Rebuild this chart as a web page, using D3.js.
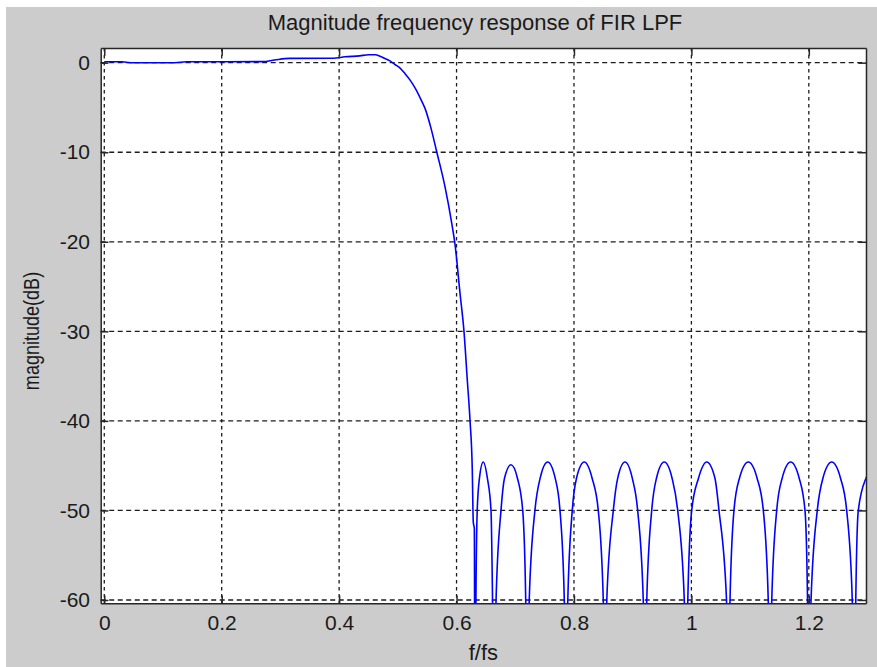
<!DOCTYPE html>
<html>
<head>
<meta charset="utf-8">
<script src="https://cdn.jsdelivr.net/npm/d3@7"></script>
<style>
  html, body { margin: 0; padding: 0; background: #ffffff; }
  svg { display: block; }
  text { font-family: "Liberation Sans", Arial, Helvetica, sans-serif; fill: #1a1a1a; }
</style>
</head>
<body>
<svg id="chart" width="877" height="667"></svg>
<script>
// Labels
const titleText = "Magnitude frequency response of FIR LPF";
const xLabelText = "f/fs";
const yLabelText = "magnitude(dB)";

// Tick values
const xTicks = [0, 0.2, 0.4, 0.6, 0.8, 1, 1.2];
const yTicks = [0, -10, -20, -30, -40, -50, -60];

// Magnitude response samples: [normalised frequency f/fs, magnitude in dB]
const passband = [
  [0, 0.1], [0.03, 0.1], [0.045, 0.0], [0.12, 0.0], [0.14, 0.1], [0.27, 0.12],
  [0.29, 0.3], [0.315, 0.48], [0.39, 0.5], [0.41, 0.66], [0.435, 0.76],
  [0.45, 0.88], [0.462, 0.88], [0.4695, 0.72], [0.477, 0.5]
];

const transition = [
  [0.4866, 0.2], [0.4951, -0.2], [0.5038, -0.6], [0.5120, -1.2], [0.5209, -1.95],
  [0.5300, -2.9], [0.5400, -4.2], [0.5463, -5.1], [0.5560, -7.2], [0.5662, -9.94],
  [0.5803, -13.85], [0.5917, -17.9], [0.5974, -20.3], [0.6059, -25.75], [0.6127, -30.04],
  [0.6183, -35.43], [0.6229, -39.9], [0.6268, -45.48], [0.6285, -51.3], [0.6303, -52.0],
  [0.6314, -80]
];

const stopband = [
  [0.6330, -60], [0.6352, -50], [0.6390, -46.4], [0.6455, -44.6], [0.6525, -46.4], [0.6587, -50], [0.6613, -60], [0.6643, -80],
  [0.6673, -60], [0.6757, -50], [0.6817, -46.4], [0.6927, -44.9], [0.7037, -46.4], [0.7127, -50], [0.7178, -60], [0.7208, -80],
  [0.7238, -60], [0.7335, -50], [0.7424, -46.4], [0.7552, -44.6], [0.7680, -46.4], [0.7762, -50], [0.7835, -60], [0.7865, -80],
  [0.7895, -60], [0.7971, -50], [0.8043, -46.4], [0.8176, -44.6], [0.8309, -46.4], [0.8414, -50], [0.8499, -60], [0.8529, -80],
  [0.8559, -60], [0.8670, -50], [0.8745, -46.4], [0.8869, -44.6], [0.8993, -46.4], [0.9085, -50], [0.9180, -60], [0.9210, -80],
  [0.9240, -60], [0.9324, -50], [0.9405, -46.4], [0.9538, -44.6], [0.9671, -46.4], [0.9767, -50], [0.9879, -60], [0.9909, -80],
  [0.9939, -60], [1.0005, -50], [1.0121, -46.4], [1.0261, -44.6], [1.0401, -46.4], [1.0470, -50], [1.0598, -60], [1.0628, -80],
  [1.0658, -60], [1.0725, -50], [1.0819, -46.4], [1.0969, -44.6], [1.1119, -46.4], [1.1225, -50], [1.1309, -60], [1.1339, -80],
  [1.1369, -60], [1.1453, -50], [1.1546, -46.4], [1.1691, -44.6], [1.1836, -46.4], [1.1935, -50], [1.1978, -60], [1.2008, -80],
  [1.2038, -60], [1.2144, -50], [1.2240, -46.4], [1.2390, -44.6], [1.2540, -46.4], [1.2645, -50], [1.2740, -60], [1.2770, -80],
  [1.2800, -60], [1.2843, -50], [1.2974, -46.4], [1.3010, -45.9]
];

const response = passband.concat(transition, stopband);

// Figure geometry
const width = 877, height = 667;
const box = { left: 100.7, right: 866, top: 48, bottom: 603.2 };
const tickLen = 7.7;
const frameColor = "#262626";
const gridColor = "#1c1c1c";

const svg = d3.select("#chart");

// figure window: white edge and grey panel
svg.append("rect").attr("width", width).attr("height", height).attr("fill", "#ffffff");
svg.append("rect").attr("x", 6).attr("y", 7).attr("width", width - 6).attr("height", height - 7)
  .attr("fill", "#cccccc");

const x = d3.scaleLinear().domain([-0.0061, 1.2974]).range([box.left, box.right]);
const y = d3.scaleLinear().domain([-60.36, 1.64]).range([box.bottom, box.top]);

// axes background
svg.append("rect")
  .attr("x", box.left).attr("y", box.top)
  .attr("width", box.right - box.left).attr("height", box.bottom - box.top)
  .attr("fill", "#ffffff");

svg.append("clipPath").attr("id", "plot-clip")
  .append("rect")
  .attr("x", box.left).attr("y", box.top)
  .attr("width", box.right - box.left).attr("height", box.bottom - box.top);

// grid
const grid = svg.append("g").attr("class", "grid");
grid.selectAll("line.hgrid").data(yTicks).join("line")
  .attr("class", "hgrid")
  .attr("x1", box.left).attr("x2", box.right)
  .attr("y1", d => y(d)).attr("y2", d => y(d))
  .attr("stroke", gridColor).attr("stroke-width", 1.3)
  .attr("stroke-dasharray", "5,3.5");
grid.selectAll("line.vgrid").data(xTicks).join("line")
  .attr("class", "vgrid")
  .attr("x1", d => x(d)).attr("x2", d => x(d))
  .attr("y1", box.top).attr("y2", box.bottom)
  .attr("stroke", gridColor).attr("stroke-width", 1.3)
  .attr("stroke-dasharray", "3.5,3.5");

// response curve
const line = d3.line()
  .x(d => x(d[0]))
  .y(d => y(d[1]))
  .curve(d3.curveMonotoneX);

svg.append("g").attr("clip-path", "url(#plot-clip)")
  .append("path")
  .datum(response)
  .attr("d", line)
  .attr("fill", "none")
  .attr("stroke", "#0000ff")
  .attr("stroke-width", 1.6)
  .attr("stroke-linejoin", "round");

// axes with inward ticks on all four sides
function styleAxis(g) {
  g.select(".domain").attr("stroke", frameColor).attr("stroke-width", 1.5);
  g.selectAll(".tick line").attr("stroke", frameColor).attr("stroke-width", 1.5);
  g.selectAll(".tick text")
    .attr("font-family", "'Liberation Sans', Arial, Helvetica, sans-serif")
    .attr("font-size", 21)
    .attr("fill", "#1a1a1a");
  g.attr("font-family", null).attr("font-size", null);
}

svg.append("g")
  .attr("transform", `translate(0,${box.bottom})`)
  .call(d3.axisBottom(x).tickValues(xTicks).tickFormat(d => String(d))
    .tickSizeInner(-tickLen).tickSizeOuter(0).tickPadding(12))
  .call(styleAxis);

svg.append("g")
  .attr("transform", `translate(0,${box.top})`)
  .call(d3.axisTop(x).tickValues(xTicks).tickFormat("")
    .tickSizeInner(-tickLen).tickSizeOuter(0))
  .call(styleAxis);

svg.append("g")
  .attr("transform", `translate(${box.left},0)`)
  .call(d3.axisLeft(y).tickValues(yTicks).tickFormat(d => String(d))
    .tickSizeInner(-tickLen).tickSizeOuter(0).tickPadding(10.7))
  .call(styleAxis);

svg.append("g")
  .attr("transform", `translate(${box.right},0)`)
  .call(d3.axisRight(y).tickValues(yTicks).tickFormat("")
    .tickSizeInner(-tickLen).tickSizeOuter(0))
  .call(styleAxis);

// title and axis labels
svg.append("text")
  .attr("x", 475).attr("y", 30)
  .attr("text-anchor", "middle")
  .attr("font-size", 22)
  .text(titleText);

svg.append("text")
  .attr("x", (box.left + box.right) / 2).attr("y", 660)
  .attr("text-anchor", "middle")
  .attr("font-size", 22)
  .text(xLabelText);

svg.append("text")
  .attr("transform", "translate(39,331) rotate(-90) scale(0.82,1)")
  .attr("text-anchor", "middle")
  .attr("font-size", 22)
  .text(yLabelText);
</script>
</body>
</html>
